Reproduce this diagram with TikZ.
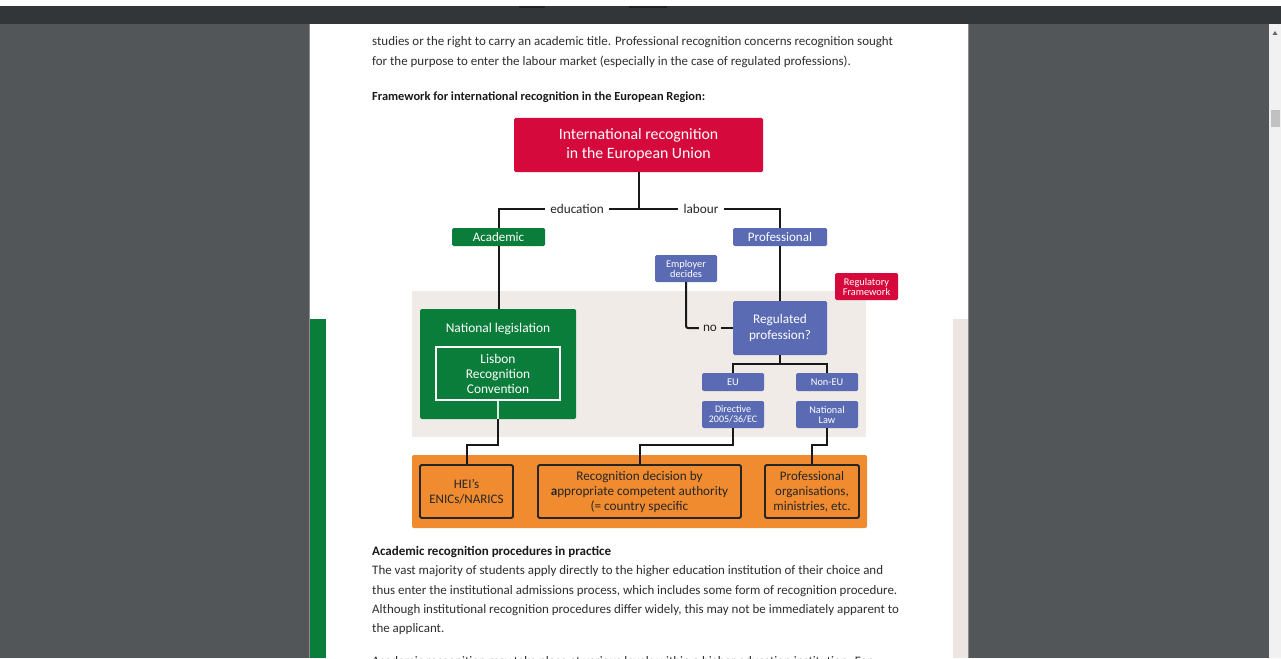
\documentclass[tikz,border=0pt]{standalone}
\usepackage{fontspec}
\setmainfont{Carlito}
\definecolor{viewerbg}{HTML}{525659}
\definecolor{topbar}{HTML}{323639}
\definecolor{tabdark}{HTML}{1F2225}
\definecolor{scrollbg}{HTML}{F1F1F1}
\definecolor{scrollthumb}{HTML}{C1C1C1}
\definecolor{eured}{HTML}{D5093B}
\definecolor{eugreen}{HTML}{0B7D3A}
\definecolor{eublue}{HTML}{5A6BB4}
\definecolor{euorange}{HTML}{F08B30}
\definecolor{beige}{HTML}{F1EBE8}
\definecolor{stripbeige}{HTML}{ECE5E2}
\definecolor{bodytext}{HTML}{2E2E2E}
\begin{document}
\begin{tikzpicture}[x=1pt,y=-1pt,
  box/.style={rectangle, rounded corners=1.5pt, inner sep=0pt, text=white, align=center},
  redbox/.style={box, fill=eured},
  greenbox/.style={box, fill=eugreen},
  bluebox/.style={box, fill=eublue},
  orangebox/.style={rectangle, rounded corners=1.5pt, inner sep=0pt, align=center, fill=euorange, draw=black!85, line width=1.8pt, text=black!85},
  conn/.style={draw=black!90, line width=2pt},
  lbl/.style={inner sep=0pt, text=black!85, font=\fontsize{13.2}{15}\selectfont},
  bodyline/.style={anchor=base west, inner sep=0pt, text=bodytext, font=\fontsize{12.95}{15}\selectfont},
  boldline/.style={bodyline, font=\fontsize{12.6}{15}\selectfont\bfseries, text=black!90}
]
\useasboundingbox (0,0) rectangle (1281,658);
% viewer background
\fill[viewerbg] (0,0) rectangle (1281,658);
\fill[white] (0,0) rectangle (1281,6);
\fill[topbar] (0,6) rectangle (1281,24);
\fill[tabdark] (519,6) rectangle (545,8);
\fill[tabdark] (629,6) rectangle (667,8);
% scrollbar
\fill[scrollbg] (1269,24) rectangle (1281,658);
\fill[scrollthumb] (1271,110) rectangle (1280,127);
\fill[black!60] (1272.5,35) -- (1277.5,35) -- (1275,31) -- cycle;
% page
\fill[black!45] (309,24) rectangle (969,658);
\fill[white] (310,24) rectangle (968,658);
\fill[eugreen] (310,319) rectangle (326,658);
\fill[stripbeige] (953,319) rectangle (968,658);
% bands
\fill[beige] (412,291) rectangle (866,437);
\fill[euorange, rounded corners=2pt] (412,455) rectangle (867,528);

% body text
\node[bodyline] (t1) at (372,46) {studies or the right to carry an academic title. Professional recognition concerns recognition sought};
\node[bodyline] (t2) at (372,66) {for the purpose to enter the labour market (especially in the case of regulated professions).};
\node[boldline, font=\fontsize{12.4}{15}\selectfont\bfseries] (t3) at (372,101) {Framework for international recognition in the European Region:};
\node[boldline, font=\fontsize{13}{15}\selectfont\bfseries] (t4) at (372,555) {Academic recognition procedures in practice};
\node[bodyline] (t5) at (372,574) {The vast majority of students apply directly to the higher education institution of their choice and};
\node[bodyline] (t6) at (372,594) {thus enter the institutional admissions process, which includes some form of recognition procedure.};
\node[bodyline] (t7) at (372,613) {Although institutional recognition procedures differ widely, this may not be immediately apparent to};
\node[bodyline] (t8) at (372,632) {the applicant.};
\node[bodyline] (t9) at (372,665) {Academic recognition may take place at various levels within a higher education institution. For};

% diagram nodes
\node[redbox, minimum width=249pt, minimum height=54pt, font=\fontsize{15.8}{19}\selectfont] (title) at (638.5,145) {International recognition\\in the European Union};
\node[greenbox, minimum width=93pt, minimum height=18pt, font=\fontsize{13}{14}\selectfont] (academic) at (498.5,237) {Academic};
\node[bluebox, minimum width=94pt, minimum height=18pt, font=\fontsize{13}{14}\selectfont] (professional) at (780,237) {Professional};
\node[bluebox, minimum width=62pt, minimum height=27pt, font=\fontsize{10.3}{10}\selectfont] (employer) at (686,268.5) {Employer\\decides};
\node[redbox, minimum width=63pt, minimum height=27pt, font=\fontsize{10.3}{10}\selectfont] (regfw) at (866.5,286.5) {Regulatory\\Framework};
\node[bluebox, minimum width=94pt, minimum height=54pt, font=\fontsize{13.2}{16}\selectfont] (regulated) at (780,328) {Regulated\\profession?};
\node[bluebox, minimum width=62pt, minimum height=18pt, font=\fontsize{10.3}{11}\selectfont] (eu) at (733,382) {EU};
\node[bluebox, minimum width=62pt, minimum height=18pt, font=\fontsize{10.3}{11}\selectfont] (noneu) at (827,382) {Non-EU};
\node[bluebox, minimum width=62pt, minimum height=27pt, font=\fontsize{10}{10}\selectfont] (directive) at (733,414.5) {Directive\\2005/36/EC};
\node[bluebox, minimum width=62pt, minimum height=27pt, font=\fontsize{10.3}{10}\selectfont] (natlaw) at (827,414.5) {National\\Law};
\node[greenbox, minimum width=156pt, minimum height=110pt] (natleg) at (498,364) {};
\node[text=white, inner sep=0pt, font=\fontsize{13.4}{15}\selectfont] (natlegtext) at (498,329) {National legislation};
\node[rectangle, draw=white, line width=1.4pt, minimum width=124pt, minimum height=53pt, inner sep=0pt, align=center, text=white, font=\fontsize{13.4}{15}\selectfont] (lisbon) at (498,373.5) {Lisbon\\Recognition\\Convention};
\node[orangebox, minimum width=93pt, minimum height=53pt, font=\fontsize{13}{15}\selectfont] (hei) at (466.5,491.5) {HEI’s\\ENICs/NARICS};
\node[orangebox, minimum width=203pt, minimum height=53pt, font=\fontsize{13.2}{15}\selectfont] (recdec) at (639.5,491.5) {Recognition decision by\\\textbf{a}ppropriate competent authority\\(= country specific};
\node[orangebox, minimum width=94pt, minimum height=53pt, font=\fontsize{13}{15}\selectfont] (proforg) at (812,491.5) {Professional\\organisations,\\ministries, etc.};

% labels on connectors
\node[lbl] (edu) at (577,209) {education};
\node[lbl] (lab) at (701,209) {labour};
\node[lbl] (no) at (710,328) {no};

% junction coordinates
\coordinate (jtop) at (638.5,209);
\coordinate (jreg) at (780,364);
\coordinate (jacad) at (498,445);
\coordinate (jdir) at (733,445);
\coordinate (jnat) at (827,445);
\coordinate (jemp) at (686,328);

% connectors
\draw[conn] (title.south) -- (jtop);
\draw[conn] ([xshift=-5pt]edu.west) -| (academic.north);
\draw[conn] ([xshift=5pt]edu.east) -- ([xshift=-5pt]lab.west);
\draw[conn] ([xshift=5pt]lab.east) -| (professional.north);
\draw[conn] (academic.south) -- (academic.south |- natleg.north);
\draw[draw=white!85!eugreen, line width=1.6pt] (lisbon.south) -- (lisbon.south |- natleg.south);
\draw[conn] (lisbon.south |- natleg.south) -- (jacad) -| (hei.north);
\draw[conn] (professional.south) -- (regulated.north);
\draw[conn] (regulated.west) -- ([xshift=4pt]no.east);
\draw[conn, rounded corners=2pt] ([xshift=-4pt]no.west) -- (jemp) -- (employer.south);
\draw[conn] (regulated.south) -- (jreg) -| (eu.north);
\draw[conn] (jreg) -| (noneu.north);
\draw[conn] (directive.south) -- (jdir) -| (recdec.north);
\draw[conn] (natlaw.south) -- (jnat) -| (proforg.north);
\end{tikzpicture}
\end{document}
